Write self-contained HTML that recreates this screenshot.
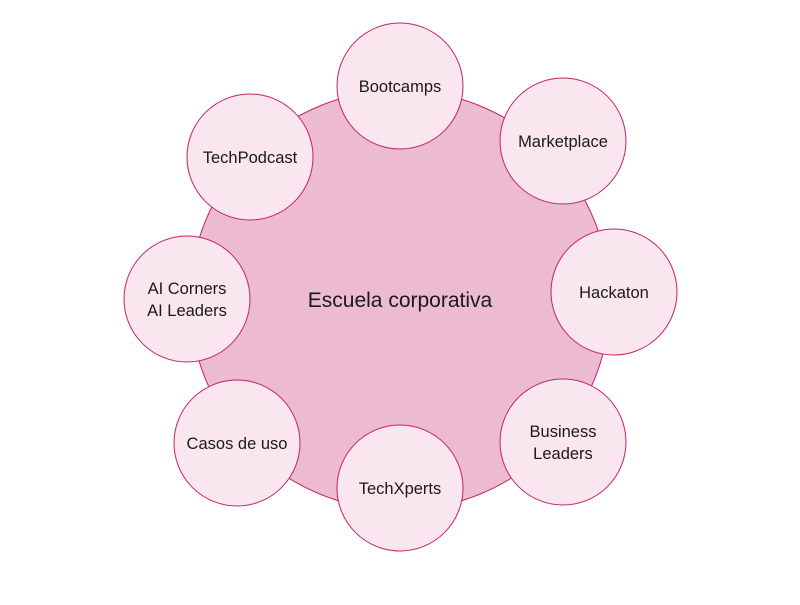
<!DOCTYPE html>
<html><head><meta charset="utf-8"><style>body{margin:0;background:#fff}</style></head><body>
<svg width="800" height="600" xmlns="http://www.w3.org/2000/svg" font-family="Liberation Sans, sans-serif" fill="#1a1a1a">
<circle cx="400" cy="300" r="210" fill="#ecbad1" stroke="#c8206a" stroke-width="1"/>
<text x="400" y="307" font-size="21" text-anchor="middle" fill="#1a1a1a">Escuela corporativa</text>
<g fill="#f9e6ee" stroke="#c8206a" stroke-width="1">
<circle cx="400" cy="86" r="63"/>
<circle cx="563" cy="141" r="63"/>
<circle cx="614" cy="292" r="63"/>
<circle cx="563" cy="442" r="63"/>
<circle cx="400" cy="488" r="63"/>
<circle cx="237" cy="443" r="63"/>
<circle cx="187" cy="299" r="63"/>
<circle cx="250" cy="157" r="63"/>
</g>
<g font-size="16.5" text-anchor="middle">
<text x="400" y="92">Bootcamps</text>
<text x="563" y="147">Marketplace</text>
<text x="614" y="298">Hackaton</text>
<text x="563" y="437">Business</text>
<text x="563" y="459">Leaders</text>
<text x="400" y="494">TechXperts</text>
<text x="237" y="449">Casos de uso</text>
<text x="187" y="294">AI Corners</text>
<text x="187" y="316">AI Leaders</text>
<text x="250" y="163">TechPodcast</text>
</g>
</svg>
</body></html>
